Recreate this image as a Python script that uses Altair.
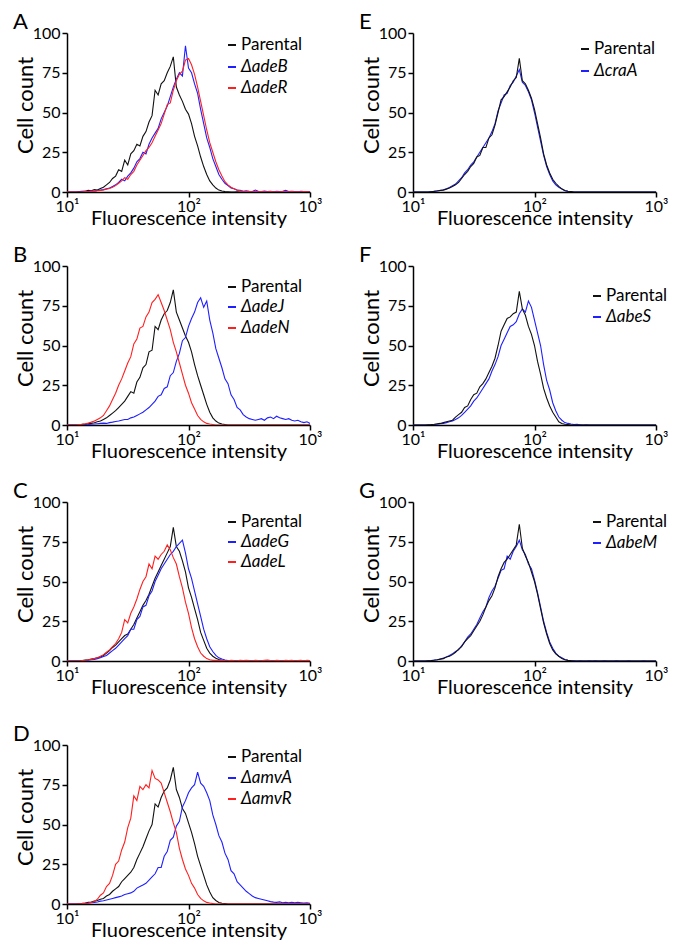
import altair as alt
import pandas as pd

FONT = "Lato"

# histogram channels: log10 intensity from 1.0 to 3.0 in 81 steps
LOG_CH = [round(1 + 0.025 * i, 3) for i in range(81)]
INTENSITY = [10 ** v for v in LOG_CH]

# ---------------- Panel A ----------------
A_PARENTAL = [0, 0, 0, 0, 0.3, 0.5, 0.4, 1.0, 0.8, 1.5,
              1.2, 2.2, 3.0, 4.5, 6.0, 8.5, 10, 14, 13, 20,
              17, 24, 26, 30, 29, 35, 38, 44, 48, 64,
              61, 68, 70, 75, 79, 85, 66, 61, 57, 52,
              49, 43, 35, 29, 22, 16, 11, 7.0, 4.5, 2.5,
              1.2, 0.6, 0.3, 0.2, 0, 0, 0.2, 0, 0, 0,
              0, 0, 0.2] + [0] * 18
A_ADEB = [0, 0, 0, 0, 0, 0.3, 0.5, 0.3, 0.8, 0.5,
          1.0, 1.2, 1.5, 2.0, 2.5, 3.5, 4.5, 6.0, 8.0, 7.0,
          10, 12, 15, 19, 21, 25, 24, 30, 34, 37,
          40, 46, 50, 54, 60, 66, 71, 75, 73, 92,
          78, 75, 68, 62, 52, 43, 34, 28, 21, 16,
          11, 8.0, 5.5, 4.0, 2.5, 2.0, 1.2, 1.0, 0.5, 0.8,
          0.5, 0.3, 1.2, 0.5, 0.3, 0.6, 0.3, 0.5, 0.2, 0.4,
          0.3, 0.5, 1.0, 0.3, 0.4, 0.3, 0.2, 0.5, 0.3, 0.2, 0.3]
A_ADER = [0, 0, 0, 0, 0, 0, 0.3, 0.2, 0.5, 0.4,
          0.8, 1.0, 1.3, 1.8, 2.2, 3.0, 4.0, 5.5, 7.0, 9.0,
          8.0, 11, 13, 17, 20, 23, 26, 28, 31, 35,
          39, 43, 49, 55, 56, 64, 70, 74, 76, 83,
          84, 80, 74, 66, 57, 48, 39, 31, 25, 19,
          14, 10, 6.5, 4.5, 3.0, 2.0, 1.3, 0.8, 0.5, 0.3,
          0.3, 0.2, 0.3, 0.2, 0.3, 0.2, 0.2, 0.3, 0.2, 0.2,
          0.2, 0.3, 0.2, 0.2, 0.3, 0.2, 0.2, 0.2, 0.3, 0.2, 0.2]

# ---------------- Panel B ----------------
B_PARENTAL = [0, 0, 0, 0, 0.2, 0.5, 0.4, 0.8, 1.0, 1.4,
              2.0, 2.5, 3.5, 4.5, 6.0, 7.5, 9.0, 11, 13, 15,
              18, 21, 20, 27, 30, 36, 38, 46, 47, 62,
              60, 66, 70, 72, 77, 85, 71, 66, 61, 56,
              52, 46, 38, 31, 25, 19, 13, 8.0, 4.5, 2.5,
              1.2, 0.6, 0.3] + [0] * 28
B_ADEJ = [0, 0, 0, 0, 0, 0, 0.2, 0.3, 0.5, 0.6,
          0.8, 1.0, 1.2, 1.0, 1.5, 1.8, 2.2, 2.5, 3.0, 3.5,
          3.5, 4.5, 5.0, 6.0, 7.0, 8.0, 9.5, 11, 13, 15,
          18, 19, 23, 24, 31, 33, 40, 45, 53, 55,
          62, 67, 71, 77, 80, 74, 78, 66, 58, 48,
          42, 36, 29, 26, 19, 16, 11, 9.5, 6.5, 5.0,
          4.0, 3.5, 3.0, 3.5, 4.0, 3.0, 4.5, 5.0, 4.0, 5.5,
          4.5, 4.0, 3.5, 4.0, 3.0, 2.5, 3.0, 2.0, 1.5, 2.0, 1.0]
B_ADEN = [0, 0, 0, 0, 0.3, 0.5, 0.8, 1.2, 1.8, 2.5,
          3.5, 4.5, 6.0, 9.0, 12, 16, 20, 25, 29, 34,
          39, 43, 51, 54, 61, 62, 68, 71, 77, 79,
          82, 77, 72, 66, 60, 52, 46, 39, 32, 25,
          20, 14, 10, 6.0, 3.5, 2.0, 1.0, 0.6, 0.3] + [0] * 32

# ---------------- Panel C ----------------
C_PARENTAL = [0, 0, 0, 0, 0, 0.3, 0.6, 0.8, 1.2, 1.5,
              2.0, 2.5, 3.5, 5.0, 6.5, 8.5, 10, 12, 14, 16,
              17, 20, 23, 27, 31, 35, 38, 42, 47, 52,
              56, 60, 64, 68, 72, 84, 72, 69, 63, 56,
              46, 40, 33, 26, 18, 13, 8.0, 5.0, 3.0, 1.8,
              1.0, 0.5, 0.3] + [0] * 28
C_ADEG = [0, 0, 0, 0, 0, 0, 0.3, 0.5, 0.8, 1.0,
          1.5, 2.0, 2.8, 3.5, 5.0, 6.5, 8.0, 10, 12, 14,
          16, 20, 20, 26, 28, 34, 35, 41, 44, 50,
          54, 58, 61, 64, 67, 69, 72, 74, 76, 68,
          58, 52, 44, 36, 28, 20, 14, 9.0, 6.0, 3.5,
          2.0, 1.2, 0.6, 0.3] + [0] * 27
C_ADEL = [0, 0, 0, 0, 0, 0.3, 0.5, 0.8, 1.0, 1.5,
          2.0, 3.0, 4.0, 5.5, 7.0, 9.0, 11, 14, 18, 26,
          24, 30, 34, 39, 45, 50, 53, 61, 58, 66,
          64, 67, 69, 73, 70, 65, 61, 53, 46, 37,
          30, 21, 14, 9.0, 5.0, 3.0, 1.5, 0.8, 0.4, 0.5,
          0.3, 0.5, 0.3, 0.2, 0.5, 0.3, 0.2, 0.4, 0.3, 0.5,
          0.3, 0.2, 0.5, 0.3, 0.2, 0.4, 0.6, 0.3, 0.2, 0.5,
          0.3, 0.2, 0.4, 0.3, 0.5, 0.2, 0.3, 0.4, 0.2, 0.5, 0.3]

# ---------------- Panel D ----------------
D_PARENTAL = [0, 0, 0, 0, 0.3, 0.4, 0.6, 1.0, 1.2, 1.8,
              2.2, 3.0, 3.5, 5.0, 6.0, 8.0, 9.5, 11, 14, 16,
              18, 20, 23, 28, 32, 36, 41, 46, 50, 63,
              61, 67, 71, 73, 78, 86, 72, 67, 60, 57,
              51, 45, 38, 30, 24, 18, 12, 7.5, 4.0, 2.2,
              1.0, 0.5, 0.3] + [0] * 28
D_AMVA = [0, 0, 0, 0, 0, 0, 0.3, 0.5, 0.8, 1.0,
          1.3, 1.8, 2.0, 2.5, 3.0, 3.5, 4.0, 4.5, 5.0, 6.0,
          6.5, 7.0, 8.0, 10, 11, 12, 13, 15, 17, 19,
          23, 23, 30, 33, 40, 42, 49, 52, 61, 65,
          70, 73, 75, 83, 76, 74, 70, 65, 56, 50,
          43, 39, 32, 28, 21, 19, 14, 12, 10, 8.0,
          6.5, 5.0, 4.0, 3.5, 3.0, 2.5, 2.0, 1.5, 1.2, 1.0,
          1.3, 0.8, 1.0, 0.8, 1.0, 0.7, 1.0, 0.8, 0.6, 0.8, 0.5]
D_AMVR = [0, 0, 0, 0, 0.2, 0.3, 0.5, 0.6, 1.0, 1.5,
          3.0, 5.5, 7.0, 11, 13, 18, 25, 27, 34, 39,
          48, 54, 68, 65, 74, 72, 75, 73, 84, 79,
          78, 76, 70, 64, 58, 51, 45, 35, 28, 22,
          18, 13, 10, 6.0, 3.5, 2.0, 1.0, 0.6, 0.3] + [0] * 32

# ---------------- Panel E ----------------
E_PARENTAL = [0, 0, 0, 0, 0, 0, 0.2, 0.4, 0.6, 1.0,
              1.2, 1.8, 2.5, 3.5, 4.5, 6.0, 8.5, 11, 13, 16,
              18, 22, 23, 28, 28, 34, 36, 42, 50, 58,
              60, 63, 66, 70, 72, 84, 70, 68, 64, 59,
              52, 43, 34, 24, 17, 12, 8.0, 5.5, 3.5, 2.0,
              1.0, 0.5, 0.3] + [0] * 28
E_CRAA = [0, 0, 0, 0, 0, 0, 0.3, 0.5, 0.8, 0.9,
          1.4, 2.0, 2.8, 4.0, 5.0, 7.0, 9.0, 12, 14, 17,
          19, 22, 25, 28, 31, 34, 38, 43, 51, 56,
          61, 62, 67, 69, 73, 77, 69, 67, 63, 58,
          50, 41, 32, 23, 16, 11, 7.0, 4.5, 3.0, 1.8,
          0.8, 0.4, 0.2] + [0] * 28

# ---------------- Panel F ----------------
F_PARENTAL = [0, 0, 0, 0, 0, 0.2, 0.3, 0.5, 0.8, 1.0,
              1.5, 2.0, 2.5, 3.0, 5.0, 6.5, 8.0, 11, 12, 16,
              19, 20, 24, 26, 29, 33, 37, 42, 50, 59,
              63, 67, 68, 70, 71, 84, 73, 69, 62, 57,
              50, 40, 32, 23, 17, 12, 8.0, 5.0, 2.0, 1.0,
              0.5, 0.3] + [0] * 29
F_ABES = [0, 0, 0, 0, 0, 0, 0.2, 0.3, 0.5, 0.8,
          1.0, 1.5, 2.0, 2.5, 3.5, 4.5, 6.0, 8.0, 10, 12,
          15, 17, 20, 23, 26, 29, 34, 38, 43, 50,
          54, 58, 62, 63, 65, 70, 73, 71, 78, 74,
          66, 58, 50, 38, 28, 22, 14, 9.0, 5.0, 3.0,
          1.5, 1.0, 0.6, 0.3, 0.4, 0.2, 0, 0.2] + [0] * 23

# ---------------- Panel G ----------------
G_PARENTAL = [0, 0, 0, 0, 0, 0.2, 0.3, 0.5, 0.8, 1.2,
              1.5, 2.5, 3.0, 4.0, 5.5, 7.5, 9.0, 12, 14, 16,
              19, 22, 25, 29, 34, 38, 41, 46, 53, 58,
              62, 64, 67, 70, 73, 86, 71, 66, 62, 56,
              50, 42, 33, 24, 17, 11, 7.0, 4.5, 3.0, 1.5,
              0.8, 0.4, 0.2] + [0] * 28
G_ABEM = [0, 0, 0, 0, 0, 0.2, 0.3, 0.6, 0.8, 1.2,
          1.8, 2.5, 3.5, 4.5, 6.0, 7.0, 9.5, 12, 15, 17,
          20, 23, 27, 31, 34, 40, 44, 47, 52, 57,
          58, 66, 64, 69, 72, 76, 70, 67, 61, 58,
          51, 43, 34, 25, 18, 12, 8.0, 5.0, 3.0, 2.0,
          1.0, 0.5, 0.3, 0.2, 0, 0.2, 0, 0, 0.2, 0,
          0.2, 0, 0, 0.2, 0, 0, 0, 0.2, 0, 0,
          0, 0.2, 0, 0, 0, 0, 0.2, 0, 0, 0, 0]

COLORS = {"k": "#111111", "b": "#1f1fff", "r": "#ff1f1f"}

X_TICKS = [10, 100, 1000]
Y_TICKS = [0, 25, 50, 75, 100]

PANELS = {
    "A": dict(series=[("Parental", A_PARENTAL, "k"), ("ΔadeB", A_ADEB, "b"), ("ΔadeR", A_ADER, "r")],
              order=[0, 1, 2], lx=161, ly=[12, 34, 55]),
    "B": dict(series=[("Parental", B_PARENTAL, "k"), ("ΔadeJ", B_ADEJ, "b"), ("ΔadeN", B_ADEN, "r")],
              order=[0, 1, 2], lx=161, ly=[21, 41, 62]),
    "C": dict(series=[("Parental", C_PARENTAL, "k"), ("ΔadeG", C_ADEG, "b"), ("ΔadeL", C_ADEL, "r")],
              order=[0, 1, 2], lx=161, ly=[20, 40, 60]),
    "D": dict(series=[("Parental", D_PARENTAL, "k"), ("ΔamvA", D_AMVA, "b"), ("ΔamvR", D_AMVR, "r")],
              order=[0, 1, 2], lx=161, ly=[12, 33, 54]),
    "E": dict(series=[("Parental", E_PARENTAL, "k"), ("ΔcraA", E_CRAA, "b")],
              order=[1, 0], lx=168, ly=[16, 38]),
    "F": dict(series=[("Parental", F_PARENTAL, "k"), ("ΔabeS", F_ABES, "b")],
              order=[1, 0], lx=180, ly=[30, 51]),
    "G": dict(series=[("Parental", G_PARENTAL, "k"), ("ΔabeM", G_ABEM, "b")],
              order=[1, 0], lx=180, ly=[20, 41]),
}

W, H = 243, 159

x_enc = alt.X("x:Q",
              scale=alt.Scale(type="log", domain=[10, 1000]),
              axis=alt.Axis(values=X_TICKS, title="Fluorescence intensity",
                            labelExpr="datum.value == 10 ? '10¹' : (datum.value == 100 ? '10²' : '10³')",
                            labelFlush=False, labelPadding=1, titlePadding=-6))
y_enc = alt.Y("y:Q",
              scale=alt.Scale(domain=[0, 100]),
              axis=alt.Axis(values=Y_TICKS, title="Cell count", labelPadding=2,
                            titlePadding=-5, titleFontSize=22, titleY=72))


def make_panel(letter):
    p = PANELS[letter]
    layers = []
    for idx in p["order"]:
        name, vals, col = p["series"][idx]
        df = pd.DataFrame({"x": INTENSITY, "y": vals})
        layers.append(
            alt.Chart(df).mark_line(color=COLORS[col], strokeWidth=1.1, clip=True)
            .encode(x=x_enc, y=y_enc)
        )
    for k, (name, _vals, col) in enumerate(p["series"]):
        lab = pd.DataFrame({"label": [name]})
        yk = p["ly"][k]
        layers.append(
            alt.Chart(lab).mark_rule(color=COLORS[col], strokeWidth=2)
            .encode(x=alt.value(p["lx"]), x2=alt.value(p["lx"] + 8), y=alt.value(yk))
        )
        layers.append(
            alt.Chart(lab).mark_text(align="left", baseline="middle", font=FONT, fontSize=17,
                                     fontStyle="normal" if k == 0 else "italic", color="black")
            .encode(x=alt.value(p["lx"] + 13), y=alt.value(yk), text="label:N")
        )
    # panel letter
    layers.append(
        alt.Chart(pd.DataFrame({"letter": [letter]}))
        .mark_text(align="left", baseline="alphabetic", font=FONT, fontSize=22, color="black")
        .encode(x=alt.value(-54), y=alt.value(-4), text="letter:N")
    )
    return alt.layer(*layers).properties(width=W, height=H)


left = alt.vconcat(
    make_panel("A"),
    alt.vconcat(make_panel("B"),
                alt.vconcat(make_panel("C"), make_panel("D"), spacing=26),
                spacing=19),
    spacing=16)
right = alt.vconcat(
    make_panel("E"),
    alt.vconcat(make_panel("F"), make_panel("G"), spacing=19),
    spacing=16)

chart = alt.hconcat(left, right, spacing=37).configure_axis(
    labelFont=FONT, titleFont=FONT, labelFontSize=16, titleFontSize=20,
    titleFontWeight="normal", labelColor="black", titleColor="black",
    domainColor="black", tickColor="black", domainWidth=1.5, tickWidth=1.5,
    tickSize=5, grid=False,
).configure_view(stroke=None).properties(
    padding={"left": 5, "top": 3, "right": 5, "bottom": 5})

chart.save("out.html", embed_options={"renderer": "svg", "actions": False})
